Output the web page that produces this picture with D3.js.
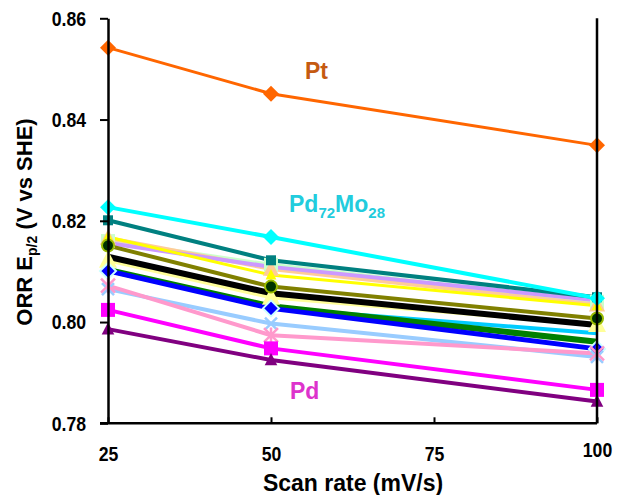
<!DOCTYPE html>
<html>
<head>
<meta charset="utf-8">
<title>ORR Ep/2 vs scan rate</title>
<script src="https://d3js.org/d3.v7.min.js"></script>
<style>
  body { margin: 0; background: #fff; }
  text { font-family: "Liberation Sans", Arial, sans-serif; font-weight: bold; }
</style>
</head>
<body>
<svg width="626" height="495"></svg>
<script>
// scan rates (mV/s) and tick labels
var scanRates = [25, 50, 100];
var xTicks = [25, 50, 75, 100];
var yTicks = [0.78, 0.80, 0.82, 0.84, 0.86];

// ORR E_p/2 values (V vs SHE)
var pt        = [0.8542, 0.8451, 0.8349];
var pd72mo28  = [0.8227, 0.8168, 0.8047];
var teal      = [0.8201, 0.8122, 0.8049];
var peach     = [0.8166, 0.8105, 0.8034];
var yellow    = [0.8168, 0.8093, 0.8032];
var lavender  = [0.8156, 0.8109, 0.8043];
var lightGrn  = [0.8160, 0.8113, 0.8040];
var olive     = [0.8151, 0.8070, 0.8007];
var black     = [0.8129, 0.8057, 0.7994];
var lightYel  = [0.8122, 0.8049, 0.7995];
var green     = [0.8103, 0.8031, 0.7961];
var skyBlue   = [null,   0.8028, 0.7978];
var blue      = [0.8101, 0.8027, 0.7947];
var lightBlue = [0.8065, 0.7997, 0.7931];
var pink      = [0.8072, 0.7974, 0.7938];
var pd        = [0.8024, 0.7948, 0.7866];
var purple    = [0.7986, 0.7925, 0.7843];

// drawing order, bottom first
var series = [
  {v: lightGrn,  c: "#ccffcc", w: 4, m: "square",   r: 7},
  {v: lightYel,  c: "#ffff99", w: 4, m: "triangle", r: 10},
  {v: peach,     c: "#ffcc99", w: 4, m: "triangle", r: 9},
  {v: lavender,  c: "#cc99ff", w: 4, m: null},
  {v: yellow,    c: "#ffff00", w: 3, m: "triangle", r: 6},
  {v: teal,      c: "#008080", w: 4, m: "square",   r: 5},
  {v: pd72mo28,  c: "#00ffff", w: 4, m: "diamond",  r: 8},
  {v: olive,     c: "#808000", w: 4, m: "circle",   r: 6, fill: "#003300", stroke: "#99bb00"},
  {v: skyBlue,   c: "#00ccff", w: 4, m: null},
  {v: green,     c: "#008000", w: 6, m: null},
  {v: black,     c: "#000000", w: 6, m: null},
  {v: blue,      c: "#0000ff", w: 5, m: "diamond",  r: 8, stroke: "#ccffff"},
  {v: lightBlue, c: "#99ccff", w: 4, m: "times",    r: 6},
  {v: pink,      c: "#ff99cc", w: 4, m: "asterisk", r: 7},
  {v: pd,        c: "#ff00ff", w: 4, m: "square",   r: 7},
  {v: purple,    c: "#800080", w: 4, m: "triangle", r: 7},
  {v: pt,        c: "#ff6600", w: 3, m: "diamond",  r: 8}
];

var svg = d3.select("svg");

var x = d3.scaleLinear().domain([25, 100]).range([108, 597]);
var y = d3.scaleLinear().domain([0.78, 0.86]).range([423.3, 18.3]);

function markerPath(type, r) {
  var p = d3.path();
  if (type == "diamond") {
    p.moveTo(0, -r); p.lineTo(r, 0); p.lineTo(0, r); p.lineTo(-r, 0); p.closePath();
  } else if (type == "square") {
    p.rect(-r, -r, 2 * r, 2 * r);
  } else if (type == "triangle") {
    p.moveTo(0, -r); p.lineTo(r * 0.9, r * 0.75); p.lineTo(-r * 0.9, r * 0.75); p.closePath();
  } else if (type == "circle") {
    p.arc(0, 0, r, 0, 2 * Math.PI);
  } else if (type == "times") {
    p.moveTo(-r, -r); p.lineTo(r, r); p.moveTo(r, -r); p.lineTo(-r, r);
  } else if (type == "asterisk") {
    p.moveTo(-r, -r); p.lineTo(r, r); p.moveTo(r, -r); p.lineTo(-r, r);
    p.moveTo(0, -r * 1.1); p.lineTo(0, r * 1.1);
  }
  return p.toString();
}

var line = d3.line()
  .defined(function(d) { return d.v != null; })
  .x(function(d) { return x(d.x); })
  .y(function(d) { return y(d.v); });

function pts(s) {
  return scanRates.map(function(r, i) { return {x: r, v: s.v[i]}; });
}

// lines
svg.append("g").selectAll("path")
  .data(series)
  .enter().append("path")
  .attr("d", function(s) { return line(pts(s)); })
  .attr("fill", "none")
  .attr("stroke", function(s) { return s.c; })
  .attr("stroke-width", function(s) { return s.w; })
  .attr("stroke-linejoin", "round");

// markers
series.forEach(function(s) {
  if (!s.m) return;
  var open = (s.m == "times" || s.m == "asterisk");
  svg.append("g").selectAll("path")
    .data(pts(s).filter(function(d) { return d.v != null; }))
    .enter().append("path")
    .attr("transform", function(d) { return "translate(" + x(d.x) + "," + y(d.v) + ")"; })
    .attr("d", markerPath(s.m, s.r))
    .attr("fill", open ? "none" : (s.fill || s.c))
    .attr("stroke", open ? s.c : (s.stroke || "none"))
    .attr("stroke-width", open ? 2.5 : 2);
});

// axes
var yAxis = svg.append("g")
  .attr("transform", "translate(108,0)")
  .call(d3.axisLeft(y).tickValues(yTicks).tickFormat(d3.format(".2f"))
    .tickSize(8).tickSizeOuter(0).tickPadding(14));

var xAxis = svg.append("g")
  .attr("transform", "translate(0,423.3)")
  .call(d3.axisBottom(x).tickValues(xTicks).tickFormat(d3.format("d"))
    .tickSize(-6).tickSizeOuter(0).tickPadding(23));

[yAxis, xAxis].forEach(function(a) {
  a.select(".domain").attr("stroke", "#000").attr("stroke-width", 2.5);
  a.selectAll(".tick line").attr("stroke", "#000").attr("stroke-width", 2);
  a.selectAll(".tick text").attr("fill", "#000")
    .style("font-size", "21px").style("font-family", "'Liberation Sans', Arial, sans-serif")
    .style("font-weight", "bold")
    .each(function() {
      // narrow glyphs like the original
      var w = this.getComputedTextLength();
      d3.select(this).attr("textLength", w * 0.84).attr("lengthAdjust", "spacingAndGlyphs");
    });
});
xAxis.select(".domain").attr("d", "M100,0H597");
xAxis.selectAll(".tick text").filter(function(d) { return d == 100; }).attr("dy", "0.5em");

// right frame line
svg.append("line")
  .attr("x1", x(100)).attr("x2", x(100))
  .attr("y1", y(0.86)).attr("y2", y(0.78))
  .attr("stroke", "#000").attr("stroke-width", 2.5);

// axis titles
svg.append("text")
  .attr("x", 353).attr("y", 491)
  .attr("text-anchor", "middle")
  .style("font-size", "23px")
  .text("Scan rate (mV/s)");

var yt = svg.append("text")
  .attr("transform", "translate(32,222) rotate(-90)")
  .attr("text-anchor", "middle")
  .style("font-size", "22px");
yt.append("tspan").text("ORR E");
yt.append("tspan").attr("dy", 5).style("font-size", "14px").text("p/2");
yt.append("tspan").attr("dy", -5).text(" (V vs SHE)");

// series labels
svg.append("text")
  .attr("x", 305).attr("y", 79)
  .attr("fill", "#c55a11")
  .style("font-size", "23px")
  .text("Pt");

var mo = svg.append("text")
  .attr("x", 289).attr("y", 212)
  .attr("fill", "#22ccdd")
  .style("font-size", "23px");
mo.append("tspan").text("Pd");
mo.append("tspan").attr("dy", 6).style("font-size", "15px").text("72");
mo.append("tspan").attr("dy", -6).text("Mo");
mo.append("tspan").attr("dy", 6).style("font-size", "15px").text("28");

svg.append("text")
  .attr("x", 290).attr("y", 399)
  .attr("fill", "#dd33cc")
  .style("font-size", "23px")
  .text("Pd");
</script>
</body>
</html>
